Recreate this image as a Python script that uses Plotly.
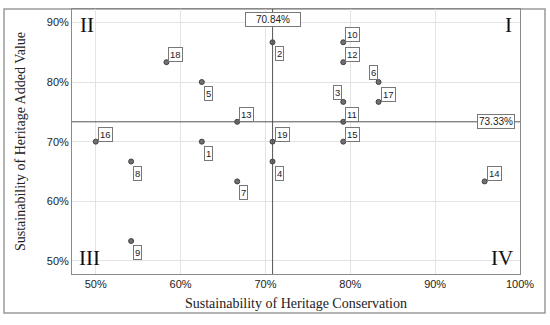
import plotly.graph_objects as go

ids = [str(i) for i in range(1, 20)]
conservation = [62.5, 70.83, 79.17, 70.83, 62.5, 83.33, 66.67, 54.17, 54.17, 79.17,
                 79.17, 79.17, 66.67, 95.83, 79.17, 50.0, 83.33, 58.33, 70.83]
added_value = [70.0, 86.67, 76.67, 66.67, 80.0, 80.0, 63.33, 66.67, 53.33, 86.67,
               73.33, 83.33, 73.33, 63.33, 70.0, 70.0, 76.67, 83.33, 70.0]
label_pos = ["lr", "lr", "ul", "lr", "lr", "ul", "lr", "lr", "lr", "ur",
             "ur", "ur", "ur", "ur", "ur", "ur", "ur", "ur", "ur"]
mean_x = 70.84
mean_y = 73.33
x_ticks = [50, 60, 70, 80, 90, 100]
y_ticks = [50, 60, 70, 80, 90]
quadrants = ["I", "II", "III", "IV"]

SANS = "Liberation Sans, Arial, sans-serif"
SERIF = "Liberation Serif, Times New Roman, serif"

fig = go.Figure()
fig.add_trace(go.Scatter(
    x=conservation, y=added_value, mode="markers",
    marker=dict(size=5, color="#707070", line=dict(color="#404040", width=1)),
    hoverinfo="skip", showlegend=False))

# reference lines
fig.add_shape(type="line", xref="x", yref="paper", x0=mean_x, x1=mean_x, y0=0, y1=1,
              line=dict(color="#555555", width=1))
fig.add_shape(type="line", xref="paper", yref="y", x0=0, x1=1, y0=mean_y, y1=mean_y,
              line=dict(color="#555555", width=1))

# outer frame
fig.add_shape(type="rect", xref="paper", yref="paper",
              x0=(4 - 72) / 448, x1=(545 - 72) / 448, y0=(274 - 313) / 265, y1=1.0,
              line=dict(color="#9a9a9a", width=1.5), fillcolor="rgba(0,0,0,0)", layer="below")

box = dict(bgcolor="white", bordercolor="#777777", borderwidth=1, borderpad=1)

for t, xv, yv, p in zip(ids, conservation, added_value, label_pos):
    if p == "ur":
        kw = dict(xanchor="left", yanchor="bottom", xshift=2, yshift=0)
    elif p == "lr":
        kw = dict(xanchor="left", yanchor="top", xshift=2, yshift=-4)
    else:
        kw = dict(xanchor="right", yanchor="bottom", xshift=-1, yshift=2)
    fig.add_annotation(x=xv, y=yv, text=t, showarrow=False,
                       font=dict(family=SANS, size=9.5, color="#222"), **kw, **box)

fig.add_annotation(x=mean_x, xref="x", y=1, yref="paper", yanchor="top", yshift=-3,
                   text=f"{mean_x:.2f}%", showarrow=False, width=52,
                   font=dict(family=SANS, size=10, color="#222"), **box)
fig.add_annotation(x=1, xref="paper", xanchor="right", xshift=-5, y=mean_y, yref="y",
                   text=f"{mean_y:.2f}%", showarrow=False,
                   font=dict(family=SANS, size=10, color="#222"), **box)

qpos = {"I": (1, 1, "right", "top", -6, -2), "II": (0, 1, "left", "top", 6, -2),
        "III": (0, 0, "left", "bottom", 5, 2), "IV": (1, 0, "right", "bottom", -5, 2)}
for q in quadrants:
    px, py, xa, ya, xs, ys = qpos[q]
    fig.add_annotation(x=px, y=py, xref="paper", yref="paper", xanchor=xa, yanchor=ya,
                       xshift=xs, yshift=ys, text=q, showarrow=False,
                       font=dict(family=SERIF, size=21, color="#111"))

fig.update_layout(
    width=550, height=325,
    margin=dict(l=72, r=30, t=9, b=51),
    paper_bgcolor="white", plot_bgcolor="white",
    xaxis=dict(range=[47.2, 100], tickvals=x_ticks, ticktext=[f"{v}%" for v in x_ticks],
               showgrid=True, gridcolor="#e3e3e3", gridwidth=1, zeroline=False,
               showline=True, linecolor="#8a8a8a", linewidth=1, mirror=True, ticks="",
               tickfont=dict(family=SANS, size=11, color="#222"),
               title=dict(text="Sustainability of Heritage Conservation", standoff=8,
                          font=dict(family=SERIF, size=14, color="#222"))),
    yaxis=dict(range=[47.8, 92.25], tickvals=y_ticks, ticktext=[f"{v}%" for v in y_ticks],
               showgrid=True, gridcolor="#e3e3e3", gridwidth=1, zeroline=False,
               showline=True, linecolor="#8a8a8a", linewidth=1, mirror=True, ticks="",
               tickfont=dict(family=SANS, size=11, color="#222"),
               title=dict(text="Sustainability of Heritage Added Value", standoff=17,
                          font=dict(family=SERIF, size=14, color="#222"))),
)

fig.write_html("out.html", config={"displayModeBar": False},
               post_script="document.body.style.margin='0';document.body.style.overflow='hidden';")
